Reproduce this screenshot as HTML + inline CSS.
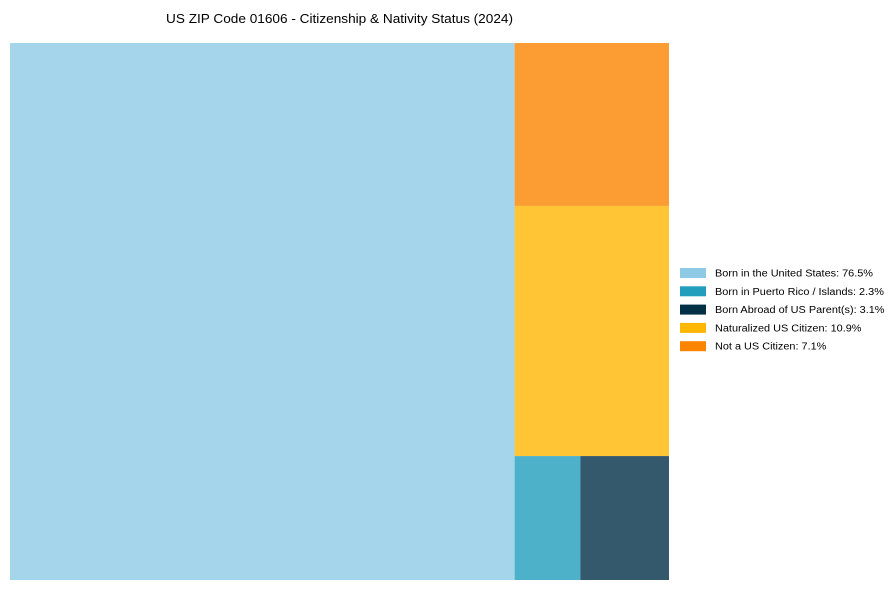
<!DOCTYPE html>
<html><head><meta charset="utf-8"><style>
body{margin:0;background:#fff;font-family:"Liberation Sans",Arial,sans-serif;}
svg{display:block}
</style></head><body>
<svg id="chart" width="889" height="590">
<text x="339.5" y="23" text-anchor="middle" font-size="13" textLength="347" lengthAdjust="spacingAndGlyphs" fill="#000">US ZIP Code 01606 - Citizenship &amp; Nativity Status (2024)</text>
<g id="tiles"></g><g id="legend"></g>
</svg>
<script>
const labels=["Born in the United States","Born in Puerto Rico / Islands","Born Abroad of US Parent(s)","Naturalized US Citizen","Not a US Citizen"];
const values=[76.5,2.3,3.1,10.9,7.1];
const colors=["#8ecae6","#219ebc","#023047","#ffb703","#fb8500"];
const NS="http://www.w3.org/2000/svg";
const X0=10,Y0=43,W=659,H=537;
const total=values.reduce((a,b)=>a+b,0);
const tiles=document.getElementById('tiles');
function rect(x,y,w,h,i){
  const r=document.createElementNS(NS,'rect');
  r.setAttribute('x',x);r.setAttribute('y',y);r.setAttribute('width',w);r.setAttribute('height',h);
  r.setAttribute('fill',colors[i]);r.setAttribute('fill-opacity','0.8');
  
  
  tiles.appendChild(r);
}
const w0=W*values[0]/total;
rect(X0,Y0,w0,H,0);
const rx=X0+w0,rw=W-w0,rest=total-values[0];
let y=Y0;
const h4=H*values[4]/rest; rect(rx,y,rw,h4,4); y+=h4;
const h3=H*values[3]/rest; rect(rx,y,rw,h3,3); y+=h3;
const hb=H*(values[1]+values[2])/rest;
const w1=rw*values[1]/(values[1]+values[2]);
rect(rx,y,w1,hb,1); rect(rx+w1,y,rw-w1,hb,2);
const lg=document.getElementById('legend');
const texts=[];
labels.forEach((l,i)=>{
  const cy=273+i*18.3;
  const s=document.createElementNS(NS,'rect');
  s.setAttribute('x',680);s.setAttribute('y',cy-5);s.setAttribute('width',26);s.setAttribute('height',10);s.setAttribute('fill',colors[i]);
  
  
  lg.appendChild(s);
  const t=document.createElementNS(NS,'text');
  t.setAttribute('x',715);t.setAttribute('y',cy+3.5);t.setAttribute('font-size','10');t.setAttribute('fill','#000');
  t.textContent=l+': '+values[i].toFixed(1)+'%';
  
  
  lg.appendChild(t);
  texts.push(t);
});
const f=158/texts[0].getComputedTextLength();
texts.forEach(t=>{
  t.setAttribute('textLength',t.getComputedTextLength()*f);
  t.setAttribute('lengthAdjust','spacingAndGlyphs');
});
</script>
</body></html>
